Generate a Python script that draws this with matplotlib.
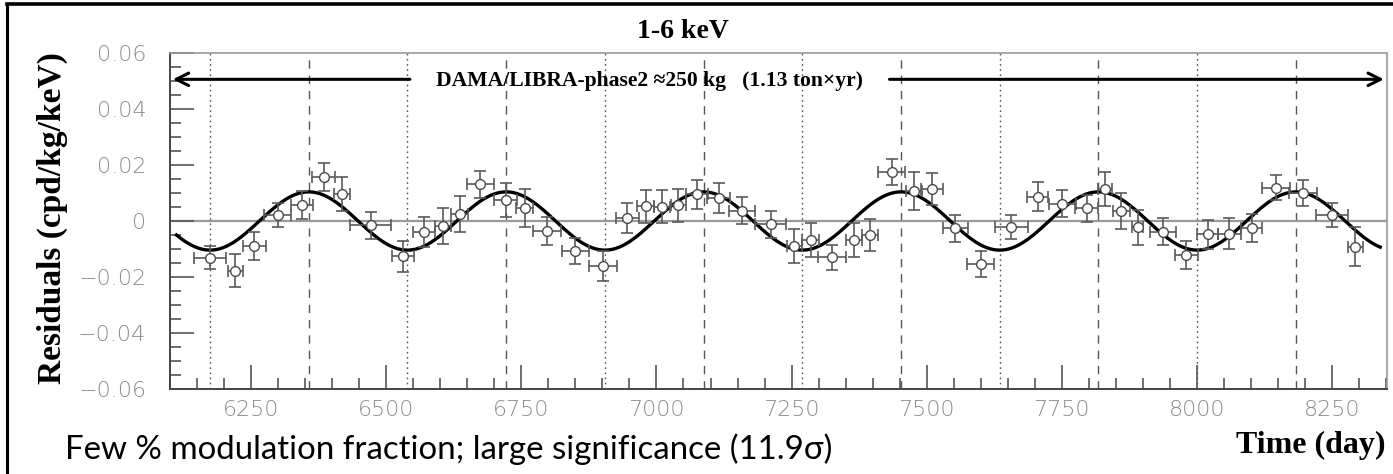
import numpy as np
import matplotlib
matplotlib.use("Agg")
import matplotlib.pyplot as plt
from matplotlib.lines import Line2D

# residual rate per time bin: centre (day), residual (cpd/kg/keV), half-widths
days = [6174, 6221, 6256, 6299, 6344, 6384, 6418, 6471, 6531, 6570, 6605, 6636,
        6674, 6721, 6756, 6797, 6850, 6901, 6946, 6980, 7010, 7040, 7075, 7115,
        7158, 7211, 7255, 7285, 7325, 7365, 7395, 7435, 7476, 7510, 7553, 7600,
        7656, 7705, 7751, 7796, 7830, 7860, 7890, 7937, 7980, 8020, 8060, 8101,
        8146, 8196, 8250, 8293]
residuals = [-0.0131, -0.0177, -0.0089, 0.0020, 0.0057, 0.0156, 0.0096, -0.0015,
             -0.0126, -0.0040, -0.0017, 0.0025, 0.0131, 0.0075, 0.0047, -0.0035,
             -0.0107, -0.0160, 0.0011, 0.0053, 0.0051, 0.0057, 0.0095, 0.0081,
             0.0036, -0.0012, -0.0089, -0.0068, -0.0130, -0.0068, -0.0050, 0.0174,
             0.0107, 0.0114, -0.0026, -0.0154, -0.0020, 0.0087, 0.0061, 0.0045,
             0.0114, 0.0037, -0.0023, -0.0038, -0.0121, -0.0047, -0.0046, -0.0024,
             0.0119, 0.0101, 0.0021, -0.0092]
day_err = [30, 14.5, 20.7, 24.7, 21, 20.7, 15.4, 37.7, 19.8, 20, 15.4, 15.4,
           25, 20.7, 15.4, 25.6, 24.7, 25.3, 21, 15.4, 15.4, 13.9, 20, 21,
           23.8, 29.3, 13.9, 15.4, 25.6, 14.5, 15.4, 25.3, 15, 20, 23.1, 25.3,
           30.6, 20, 25.6, 21.6, 13.3, 15.4, 10.8, 24.4, 21, 19.4, 21, 19,
           25.6, 25.3, 29, 13.9]
res_err = [0.0042, 0.0058, 0.0051, 0.0043, 0.0051, 0.0050, 0.0061, 0.0048,
           0.0056, 0.0053, 0.0064, 0.0064, 0.0049, 0.0059, 0.0068, 0.0049,
           0.0046, 0.0053, 0.0053, 0.0059, 0.0058, 0.0059, 0.0053, 0.0053,
           0.0048, 0.0049, 0.0060, 0.0062, 0.0046, 0.0061, 0.0057, 0.0047,
           0.0068, 0.0058, 0.0048, 0.0046, 0.0043, 0.0052, 0.0048, 0.0049,
           0.0061, 0.0064, 0.0064, 0.0048, 0.0050, 0.0052, 0.0055, 0.0050,
           0.0044, 0.0046, 0.0042, 0.0069]

# cosine fit A*cos(w(t - t0))
amplitude = 0.0104
period = 365.25
t0 = 147.45
fit_range = (6112, 8339)

xlim = (6100, 8351)
ylim = (-0.06, 0.06)
xticks = [6250, 6500, 6750, 7000, 7250, 7500, 7750, 8000, 8250]
yticks = [-0.06, -0.04, -0.02, 0, 0.02, 0.04, 0.06]
ytick_labels = ["\u22120.06", "\u22120.04", "\u22120.02", "0", "0.02", "0.04", "0.06"]

note_head = "Few % modulation fraction;"
note_tail = " large significance (11.9\u03c3)"

serif = "Liberation Serif"
sans = ["Lato", "DejaVu Sans"]
tick_grey = "#8a8a8a"

fig = plt.figure(figsize=(13.93, 4.74), dpi=100)
ax = fig.add_axes([170 / 1393, 1 - 389 / 474, (1386.7 - 170) / 1393, (389 - 53) / 474])
ax.set_xlim(*xlim)
ax.set_ylim(*ylim)

# maxima (June 2nd) dashed, minima dotted
peaks = t0 + period * np.arange(0, 30)
for tp in peaks:
    if xlim[0] < tp < xlim[1]:
        ax.axvline(tp, color="#555555", lw=1.0, ls=(0, (6, 5)), zorder=1)
    tm = tp + period / 2
    if xlim[0] < tm < xlim[1]:
        ax.axvline(tm, color="#555555", lw=1.0, ls=(0, (1.2, 2.5)), zorder=1)

ax.axhline(0, color="#9a9a9a", lw=1.6, zorder=1)

t = np.linspace(fit_range[0], fit_range[1], 2000)
ax.plot(t, amplitude * np.cos(2 * np.pi * (t - t0) / period), color="black", lw=2.4, zorder=3)

ax.errorbar(days, residuals, xerr=day_err, yerr=res_err, fmt="none",
            ecolor="#5a5a5a", elinewidth=1.2, capsize=4, capthick=1.2, zorder=4)
ax.plot(days, residuals, "o", ms=7, mfc="white", mec="#4a4a4a", mew=1.0, zorder=5)

# ticks: inward, left and bottom only
ax.set_xticks(xticks)
ax.set_xticks(np.arange(6100, 8351, 50), minor=True)
ax.set_yticks(yticks)
ax.set_yticklabels(ytick_labels)
ax.set_yticks(np.arange(-0.06, 0.0601, 0.005), minor=True)
ax.tick_params(which="both", direction="in", color="#555555", width=1.2,
               top=False, right=False, labelcolor=tick_grey, labelsize=16)
ax.tick_params(which="major", length=17)
ax.tick_params(which="minor", length=8)
ax.tick_params(axis="y", pad=17)
ax.tick_params(axis="x", pad=8)
for lab in ax.get_xticklabels() + ax.get_yticklabels():
    lab.set_fontweight("light")

for side in ("left", "bottom"):
    ax.spines[side].set_color("#444444")
    ax.spines[side].set_linewidth(1.4)
for side in ("top", "right"):
    ax.spines[side].set_color("#999999")
    ax.spines[side].set_linewidth(1.2)

ax.set_ylabel("Residuals (cpd/kg/keV)", family=serif, weight="bold", fontsize=24)
ax.yaxis.set_label_coords(-0.084, 0.51)

# exposure arrows and label
arrow_y = 0.0506
ax.annotate("", xy=(xlim[0], arrow_y), xytext=(6549, arrow_y),
            arrowprops=dict(arrowstyle="->,head_length=0.9,head_width=0.45", lw=2.2, color="black"))
ax.annotate("", xy=(xlim[1], arrow_y), xytext=(7426, arrow_y),
            arrowprops=dict(arrowstyle="->,head_length=0.9,head_width=0.45", lw=2.2, color="black"))
ax.text(6988, arrow_y - 0.0005, "DAMA/LIBRA-phase2 \u2248250 kg   (1.13 ton\u00d7yr)",
        family=serif, weight="bold", fontsize=15.6, ha="center", va="center")

fig.text(683 / 1393, 1 - 32 / 474, "1-6 keV", family=serif, weight="bold",
         fontsize=20, ha="center", va="center")
fig.text(1385 / 1393, 1 - 453 / 474, "Time (day)", family=serif, weight="bold",
         fontsize=23, ha="right", va="baseline")

# footnote: size it so the first clause spans 65..465 px
note = fig.text(65 / 1393, 1 - 459 / 474, note_head, family=sans, fontsize=20,
                ha="left", va="baseline")
renderer = fig.canvas.get_renderer()
head_w = note.get_window_extent(renderer).width
note.set_fontsize(20 * 400 / head_w)
note.set_text(note_head + note_tail)

# outer frame
fig.add_artist(Line2D([7 / 1393, 7 / 1393], [0, 1 - 4 / 474], transform=fig.transFigure,
                      color="black", lw=2.2))
fig.add_artist(Line2D([7 / 1393, 1], [1 - 4 / 474, 1 - 4 / 474], transform=fig.transFigure,
                      color="black", lw=2.6))

fig.savefig("out.png", dpi=100)
